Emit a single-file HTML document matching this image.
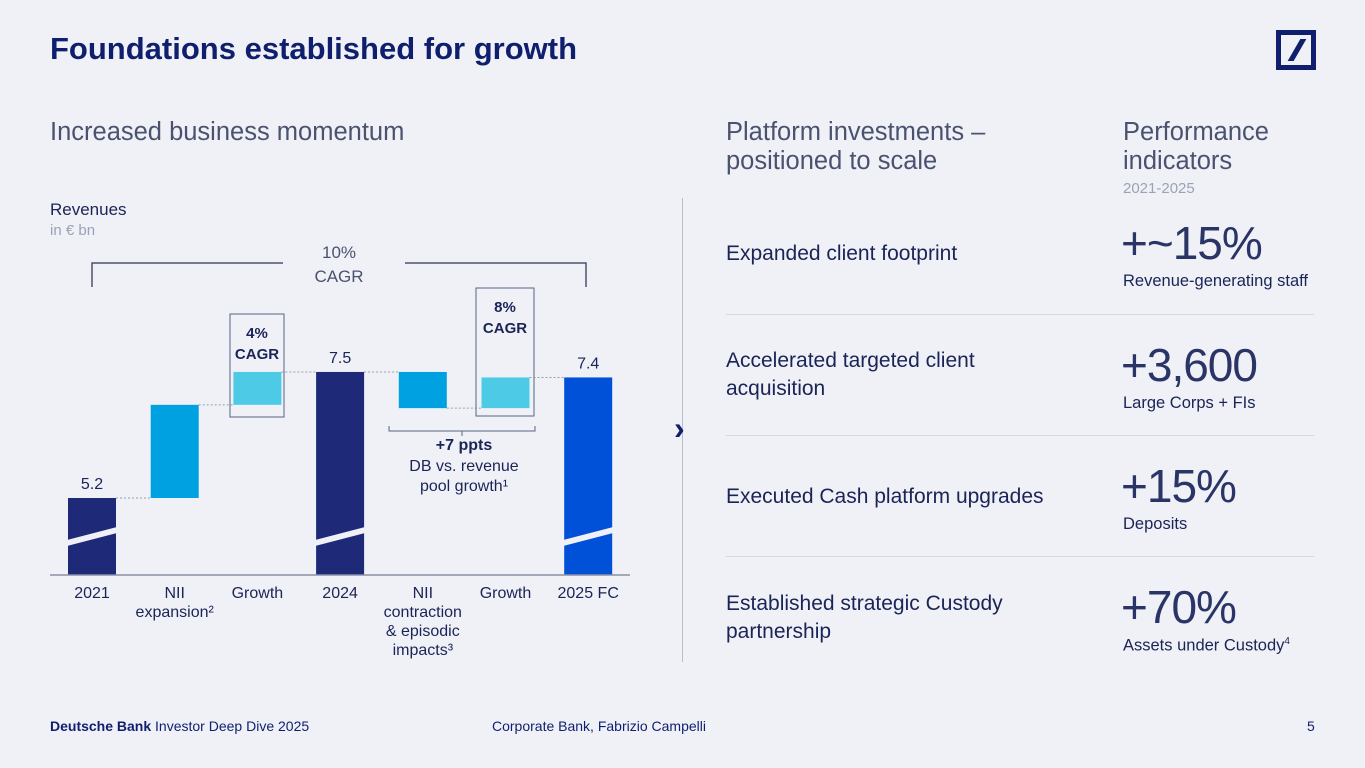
<!DOCTYPE html>
<html><head><meta charset="utf-8">
<style>
body{margin:0;width:1365px;height:768px;background:#eff1f7;font-family:"Liberation Sans",sans-serif;color:#0f1a4b;position:relative;overflow:hidden}
.a{position:absolute;white-space:nowrap}
.lbl{font-size:21px;color:#1a2456;line-height:28px}
.big{font-size:46px;font-weight:300;color:#2a3466;letter-spacing:-1px}
.sub{font-size:16.5px;color:#1a2456}
.sep{position:absolute;left:726px;width:588px;height:1px;background:#d6d9e3}
</style></head><body>
<div class="a" style="left:50px;top:31px;font-size:31px;font-weight:bold;color:#0f1f6e">Foundations established for growth</div>
<div style="position:absolute;left:1276px;top:30px;width:40px;height:40px;border:5px solid #0f1f6e;box-sizing:border-box">
<div style="position:absolute;left:13px;top:4px;width:6px;height:22px;background:#0f1f6e;transform:skewX(-30deg)"></div></div>
<div class="a" style="left:50px;top:118px;font-size:25.5px;font-weight:300;color:#4a5270">Increased business momentum</div>
<div class="a" style="left:50px;top:200px;font-size:17px;color:#1a2456">Revenues</div>
<div class="a" style="left:50px;top:222px;font-size:15px;color:#9ba2b6">in € bn</div>
<svg id="chart" style="position:absolute;left:0;top:0" width="680" height="680"></svg>
<div style="position:absolute;left:682px;top:198px;width:1px;height:464px;background:#b9bdcc"></div>
<div class="a" style="left:674px;top:410px;font-size:32px;color:#0f1f6e;font-weight:bold">›</div>
<div class="a" style="left:726px;top:118px;font-size:25.5px;font-weight:300;color:#4a5270;line-height:29px">Platform investments –<br>positioned to scale</div>
<div class="a" style="left:1123px;top:118px;font-size:25.5px;font-weight:300;color:#4a5270;line-height:29px">Performance<br>indicators</div>
<div class="a" style="left:1123px;top:180px;font-size:15px;color:#9ba2b6">2021-2025</div>

<div class="a lbl" style="left:726px;top:240px">Expanded client footprint</div>
<div class="a big" style="left:1121px;top:216px">+~15%</div>
<div class="a sub" style="left:1123px;top:272px">Revenue-generating staff</div>
<div class="sep" style="top:314px"></div>
<div class="a lbl" style="left:726px;top:347px">Accelerated targeted client<br>acquisition</div>
<div class="a big" style="left:1121px;top:338px">+3,600</div>
<div class="a sub" style="left:1123px;top:394px">Large Corps + FIs</div>
<div class="sep" style="top:435px"></div>
<div class="a lbl" style="left:726px;top:483px">Executed Cash platform upgrades</div>
<div class="a big" style="left:1121px;top:459px">+15%</div>
<div class="a sub" style="left:1123px;top:515px">Deposits</div>
<div class="sep" style="top:556px"></div>
<div class="a lbl" style="left:726px;top:590px">Established strategic Custody<br>partnership</div>
<div class="a big" style="left:1121px;top:580px">+70%</div>
<div class="a sub" style="left:1123px;top:636px">Assets under Custody<sup style="font-size:10px">4</sup></div>

<div class="a" style="left:50px;top:718px;font-size:14px;color:#0f1f6e"><b>Deutsche Bank</b> Investor Deep Dive 2025</div>
<div class="a" style="left:492px;top:718px;font-size:14px;color:#0f1f6e">Corporate Bank, Fabrizio Campelli</div>
<div class="a" style="left:1307px;top:718px;font-size:14px;color:#0f1f6e">5</div>
<script>
const categories=["2021","NII expansion","Growth","2024","NII contraction & episodic impacts","Growth","2025 FC"];
const starts=[0,5.2,6.9,0,7.5,6.84,0];
const ends=[5.2,6.9,7.5,7.5,6.84,7.4,7.4];
const totals=[true,false,false,true,false,false,true];
const valueLabels=["5.2","","","7.5","","","7.4"];
const colors=["#1e2a78","#00a1e0","#4dcbe6","#1e2a78","#00a1e0","#4dcbe6","#0050d8"];
const NS="http://www.w3.org/2000/svg";
const svg=document.getElementById('chart');
const baseY=575, x0=68, step=82.7, bw=48;
const y=v=>498-(v-5.2)*54.8;
const xs=i=>x0+i*step;
function mk(t,a){const e=document.createElementNS(NS,t);for(const k in a)e.setAttribute(k,a[k]);svg.appendChild(e);return e;}
for(let i=0;i<categories.length-1;i++){
  const l=mk('line',{x1:xs(i)+bw,x2:xs(i+1),y1:y(ends[i]),y2:y(ends[i]),stroke:'#9aa0b4','stroke-dasharray':'2,2','stroke-width':1});
  
  
}
categories.forEach((c,i)=>{
  const top=y(Math.max(starts[i],ends[i]));
  const bot=totals[i]?baseY:y(Math.min(starts[i],ends[i]));
  const r=mk('rect',{x:xs(i),y:top,width:bw,height:bot-top,fill:colors[i]});
  
  
  if(totals[i]){
    const p=mk('polygon',{points:`${xs(i)-1},540 ${xs(i)+bw+1},527 ${xs(i)+bw+1},533 ${xs(i)-1},546`,fill:'#eff1f7'});
    
    
    const t=mk('text',{x:xs(i)+bw/2,y:top-9,'text-anchor':'middle','font-size':16,fill:'#1a2456','font-family':'Liberation Sans'});
    t.textContent=valueLabels[i];
    
    
  }
  const words=c==="NII expansion"?["NII","expansion²"]:c.startsWith("NII contraction")?["NII","contraction","& episodic","impacts³"]:[c];
  words.forEach((w,k)=>{
    const t=mk('text',{x:xs(i)+bw/2,y:598+k*19,'text-anchor':'middle','font-size':16,fill:'#1a2456','font-family':'Liberation Sans'});
    t.textContent=w;
    
    
  });
});
const ax=mk('line',{x1:50,x2:630,y1:baseY,y2:baseY,stroke:'#8a90a6','stroke-width':1.5});


const br=mk('path',{d:'M92,287 V263 H283 M405,263 H586 V287',fill:'none',stroke:'#4a5270','stroke-width':1.5});


[["10%",258],["CAGR",282]].forEach(([s,yy])=>{const t=mk('text',{x:339,y:yy,'text-anchor':'middle','font-size':17,fill:'#4a5270','font-family':'Liberation Sans'});t.textContent=s;

});
[[230,314,284,417,"4%"],[476,288,534,416,"8%"]].forEach(([x1,y1,x2,y2,s])=>{
  const b=mk('rect',{x:x1,y:y1,width:x2-x1,height:y2-y1,fill:'none',stroke:'#5a6283','stroke-width':1});
  
  
  [[s,y1+24],["CAGR",y1+45]].forEach(([tx,yy])=>{const t=mk('text',{x:(x1+x2)/2,y:yy,'text-anchor':'middle','font-size':15,'font-weight':'bold',fill:'#1a2456','font-family':'Liberation Sans'});t.textContent=tx;
  
  });
});
const pb=mk('path',{d:'M389,426 V431 H535 V426 M462,431 V436',fill:'none',stroke:'#5a6283','stroke-width':1});


[["+7 ppts",450,'bold'],["DB vs. revenue",471,'normal'],["pool growth¹",491,'normal']].forEach(([s,yy,w])=>{const t=mk('text',{x:464,y:yy,'text-anchor':'middle','font-size':16,'font-weight':w,fill:'#1a2456','font-family':'Liberation Sans'});t.textContent=s;

});
</script>
</body></html>
